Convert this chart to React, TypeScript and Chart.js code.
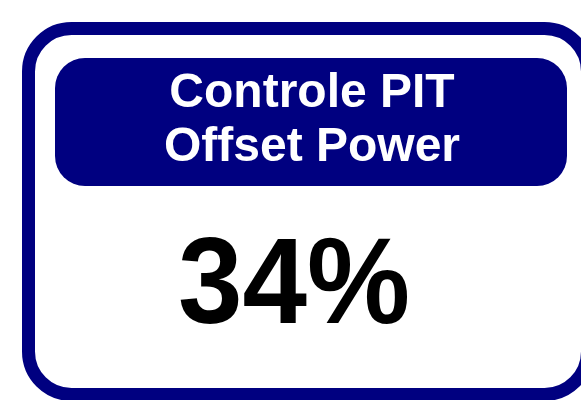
import React, { useEffect, useRef } from "react";
import { Chart, registerables } from "chart.js";

Chart.register(...registerables);

const titleLines: string[] = ["Controle PIT", "Offset Power"];
const kpiValues: number[] = [34];
const valueSuffix = "%";

const NAVY = "#000080";

const kpiPlugin = {
  id: "kpiWidget",
  afterDraw(chart: any) {
    const ctx: CanvasRenderingContext2D = chart.ctx;
    ctx.save();
    // outer frame
    ctx.fillStyle = "#ffffff";
    ctx.beginPath();
    (ctx as any).roundRect(28.5, 28.5, 559, 366, 43);
    ctx.fill();
    ctx.lineWidth = 13;
    ctx.strokeStyle = NAVY;
    ctx.stroke();
    // title box
    ctx.fillStyle = NAVY;
    ctx.beginPath();
    (ctx as any).roundRect(55, 58, 512, 128, 30);
    ctx.fill();
    // title text
    ctx.fillStyle = "#ffffff";
    ctx.font = "bold 48px 'Liberation Sans', Arial, sans-serif";
    ctx.textAlign = "center";
    ctx.textBaseline = "alphabetic";
    const lines: string[] = chart.data.labels as string[];
    lines.forEach((l, i) => ctx.fillText(l, 312, 107 + i * 54));
    // value
    const v = chart.data.datasets[0].data[0];
    ctx.fillStyle = "#000000";
    ctx.font = "bold 122px 'Liberation Sans', Arial, sans-serif";
    ctx.translate(294, 323);
    ctx.scale(0.95, 1);
    ctx.fillText(String(v) + valueSuffix, 0, 0);
    ctx.restore();
  },
};

export default function App() {
  const ref = useRef<HTMLCanvasElement | null>(null);
  useEffect(() => {
    if (!ref.current) return;
    const chart = new Chart(ref.current, {
      type: "bar",
      data: {
        labels: titleLines,
        datasets: [{ data: kpiValues, backgroundColor: "rgba(0,0,0,0)" }],
      },
      options: {
        animation: false,
        responsive: false,
        events: [],
        plugins: { legend: { display: false }, tooltip: { enabled: false } },
        scales: { x: { display: false }, y: { display: false } },
      },
      plugins: [kpiPlugin],
    });
    return () => chart.destroy();
  }, []);
  return (
    <div style={{ position: "absolute", left: 0, top: 0, width: 581, height: 400 }}>
      <canvas ref={ref} width={581} height={400} style={{ display: "block" }} />
    </div>
  );
}
